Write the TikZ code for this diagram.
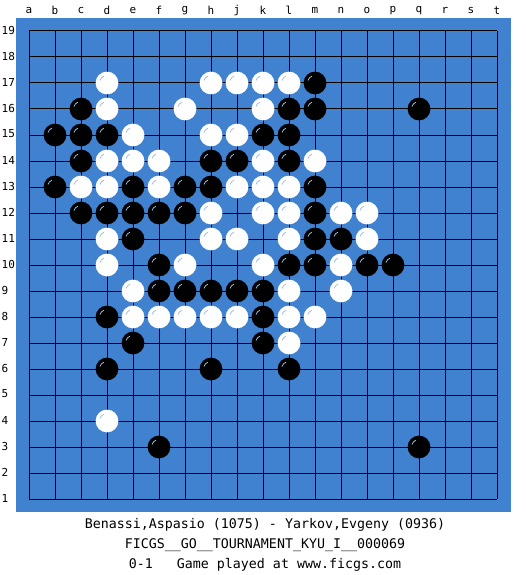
\documentclass[tikz,border=0pt]{standalone}
\usepackage{fontspec}
\setmonofont{DejaVu Sans Mono}
\definecolor{board}{RGB}{64,130,208}
\definecolor{shine}{RGB}{150,190,240}
\tikzset{
  bstone/.style={fill=black},
  wstone/.style={fill=white},
  glint/.style={draw=shine, line width=0.8pt},
  coordlabel/.style={font=\ttfamily\fontsize{11}{13}\selectfont, inner sep=0pt},
  infotext/.style={font=\ttfamily\fontsize{13.3}{15}\selectfont, inner sep=0pt},
  gridline/.style={draw=black, line width=1pt}
}
\begin{document}
\begin{tikzpicture}[x=1pt,y=-1pt]
\useasboundingbox (0,0) rectangle (525,575);
\fill[white] (0,0) rectangle (525,575);
\fill[board] (16,18) rectangle (511,512);
% grid
\foreach \i in {0,...,18} {
  \draw[gridline] (29+26*\i,31) -- (29+26*\i,499);
  \draw[gridline] (29,31+26*\i) -- (497,31+26*\i);
}
% column letters
\foreach \l [count=\i from 0] in {a,b,c,d,e,f,g,h,j,k,l,m,n,o,p,q,r,s,t}
  \node[coordlabel] (col\l) at (29+26*\i,10.5) {\l};
% row numbers
\foreach \r in {1,...,19}
  \node[coordlabel, anchor=west] (row\r) at (1.5,30+26*19-26*\r) {\r};
% black stones
\foreach \c/\r in {12/17, 3/16, 11/16, 12/16, 16/16, 2/15, 3/15, 4/15, 10/15, 11/15,
  3/14, 8/14, 9/14, 11/14, 2/13, 5/13, 7/13, 8/13, 12/13,
  3/12, 4/12, 5/12, 6/12, 7/12, 12/12, 5/11, 12/11, 13/11,
  6/10, 11/10, 12/10, 14/10, 15/10, 6/9, 7/9, 8/9, 9/9, 10/9,
  4/8, 10/8, 5/7, 10/7, 4/6, 8/6, 11/6, 6/3, 16/3} {
  \fill[bstone] (3+26*\c, 31+26*19-26*\r) circle[radius=11.4];
  \draw[glint] (3+26*\c, 31+26*19-26*\r) ++(200:7.5) arc[start angle=200, end angle=245, radius=7.5];
}
% white stones
\foreach \c/\r in {4/17, 8/17, 9/17, 10/17, 11/17, 4/16, 7/16, 10/16,
  5/15, 8/15, 9/15, 4/14, 5/14, 6/14, 10/14, 12/14,
  3/13, 4/13, 6/13, 9/13, 10/13, 11/13, 8/12, 10/12, 11/12, 13/12, 14/12,
  4/11, 8/11, 9/11, 11/11, 14/11, 4/10, 7/10, 10/10, 13/10,
  5/9, 11/9, 13/9, 5/8, 6/8, 7/8, 8/8, 9/8, 11/8, 12/8, 11/7, 4/4} {
  \fill[wstone] (3+26*\c, 31+26*19-26*\r) circle[radius=11.4];
  \draw[glint] (3+26*\c, 31+26*19-26*\r) ++(200:7.5) arc[start angle=200, end angle=245, radius=7.5];
}
% game info
\node[infotext] (players) at (265,525) {Benassi,Aspasio (1075) - Yarkov,Evgeny (0936)};
\node[infotext] (event) at (265,545) {FICGS\_\_GO\_\_TOURNAMENT\_KYU\_I\_\_000069};
\node[infotext] (result) at (265,565) {0-1\ \ \ Game played at www.ficgs.com};
\end{tikzpicture}
\end{document}
